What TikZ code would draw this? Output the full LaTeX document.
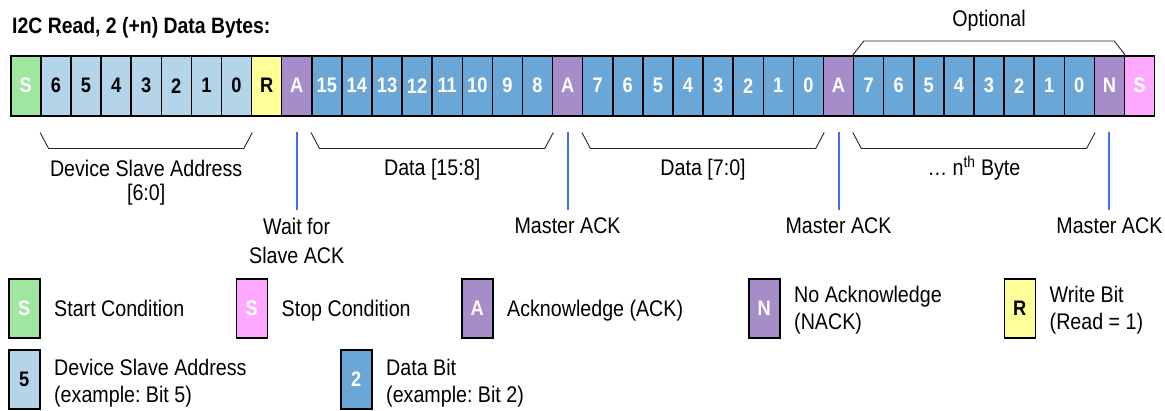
\documentclass[tikz,border=0pt]{standalone}
\usepackage{fontspec}
\setmainfont{Liberation Sans}[FakeStretch=0.87]
\usetikzlibrary{calc}
\definecolor{cstart}{HTML}{A0E6A0}
\definecolor{caddr}{HTML}{B4D4EA}
\definecolor{cread}{HTML}{FFFF99}
\definecolor{cack}{HTML}{A68CC8}
\definecolor{cdata}{HTML}{6BA7D6}
\definecolor{cstop}{HTML}{FFA8FF}
\definecolor{cline}{HTML}{3F6FEA}
\frenchspacing
\begin{document}
\begin{tikzpicture}[x=1pt,y=-1pt,
  bitbox/.style={draw=black, line width=1.5pt, minimum width=30.1pt, minimum height=60pt, inner sep=0pt, anchor=north west, font=\fontsize{21}{21}\selectfont\bfseries},
  legbox/.style={draw=black, line width=1.5pt, minimum width=31pt, minimum height=59pt, inner sep=0pt, anchor=north west, font=\fontsize{21}{21}\selectfont\bfseries},
  lbl/.style={font=\fontsize{22.6}{24}\selectfont, inner sep=0pt},
  brace/.style={draw=black!85, line width=0.9pt},
  ackline/.style={draw=cline, line width=2pt}]
\useasboundingbox (0,0) rectangle (1165,410);
\node[anchor=west, inner sep=0pt, font=\fontsize{22.3}{24}\selectfont\bfseries] (title) at (12,28) {I2C Read, 2 (+n) Data Bytes:};
% sequence
\foreach \i/\t/\f/\c in {0/S/cstart/white,
  1/6/caddr/black, 2/5/caddr/black, 3/4/caddr/black, 4/3/caddr/black, 5/2/caddr/black, 6/1/caddr/black, 7/0/caddr/black,
  8/R/cread/black, 9/A/cack/white,
  10/15/cdata/white, 11/14/cdata/white, 12/13/cdata/white, 13/12/cdata/white, 14/11/cdata/white, 15/10/cdata/white, 16/9/cdata/white, 17/8/cdata/white,
  18/A/cack/white,
  19/7/cdata/white, 20/6/cdata/white, 21/5/cdata/white, 22/4/cdata/white, 23/3/cdata/white, 24/2/cdata/white, 25/1/cdata/white, 26/0/cdata/white,
  27/A/cack/white,
  28/7/cdata/white, 29/6/cdata/white, 30/5/cdata/white, 31/4/cdata/white, 32/3/cdata/white, 33/2/cdata/white, 34/1/cdata/white, 35/0/cdata/white,
  36/N/cack/white, 37/S/cstop/white}
  {\node[bitbox, fill=\f, text=\c] (b\i) at ({10+\i*30.1},55) {\t};}
% braces below
\foreach \a/\b in {1/7, 10/17, 19/26, 28/35}
  {\draw[brace] ($(b\a.south west)+(0,16)$) -- ++(8.5,16) -- ($(b\b.south east)+(-8.5,32)$) -- ($(b\b.south east)+(0,16)$);}
% optional bracket
\draw[brace] (b28.north west) -- ++(11,-14) -- ($(b36.north east)+(-11,-14)$) -- (b36.north east);
\node[lbl] (opt) at ($(b28.north west)!0.5!(b36.north east)+(0,-34)$) {Optional};
% brace labels
\node[lbl, align=center, anchor=north] (ldev) at ($(b1.south west)!0.5!(b7.south east)+(0,43)$) {Device Slave Address\\{}[6:0]};
\node[lbl, anchor=base] (ld1) at ($(b10.south west)!0.5!(b17.south east)+(0,59)$) {Data [15:8]};
\node[lbl, anchor=base] (ld2) at ($(b19.south west)!0.5!(b26.south east)+(0,59)$) {Data [7:0]};
\node[lbl, anchor=base] (ld3) at ($(b28.south west)!0.5!(b35.south east)+(0,59)$) {… n\textsuperscript{th} Byte};
% ack lines and labels
\node[lbl, align=center, anchor=north, font=\fontsize{22.6}{29}\selectfont] (lwait) at ($(b9.south)+(0,101)$) {Wait for\\Slave ACK};
\node[lbl, anchor=north] (lm1) at ($(b18.south)+(0,101)$) {Master ACK};
\node[lbl, anchor=north] (lm2) at ($(b27.south)+(0,101)$) {Master ACK};
\node[lbl, anchor=north] (lm3) at ($(b36.south)+(0,101)$) {Master ACK};
\draw[ackline] ($(b9.south)+(0,15)$) -- ($(lwait.north)+(0,-8)$);
\draw[ackline] ($(b18.south)+(0,15)$) -- ($(lm1.north)+(0,-8)$);
\draw[ackline] ($(b27.south)+(0,15)$) -- ($(lm2.north)+(0,-8)$);
\draw[ackline] ($(b36.south)+(0,15)$) -- ($(lm3.north)+(0,-8)$);
% legend
\node[legbox, fill=cstart, text=white] (kS) at (8,278) {S};
\node[legbox, fill=cstop, text=white] (kP) at (235.5,278) {S};
\node[legbox, fill=cack, text=white] (kA) at (461,278) {A};
\node[legbox, fill=cack, text=white] (kN) at (748,278) {N};
\node[legbox, fill=cread, text=black] (kR) at (1003.5,278) {R};
\node[legbox, fill=caddr, text=black] (k5) at (8,349) {5};
\node[legbox, fill=cdata, text=white] (k2) at (340,349) {2};
\node[lbl, anchor=base west] (tS) at ($(kS.east)+(13.5,8)$) {Start Condition};
\node[lbl, anchor=base west] (tP) at ($(kP.east)+(13.5,8)$) {Stop Condition};
\node[lbl, anchor=base west] (tA) at ($(kA.east)+(13.5,8)$) {Acknowledge (ACK)};
\node[lbl, anchor=north west, align=left, font=\fontsize{22.6}{27}\selectfont] (tN) at ($(kN.east)+(13.5,-22.5)$) {No Acknowledge\\(NACK)};
\node[lbl, anchor=north west, align=left, font=\fontsize{22.6}{27}\selectfont] (tR) at ($(kR.east)+(13.5,-22.5)$) {Write Bit\\(Read = 1)};
\node[lbl, anchor=north west, align=left, font=\fontsize{22.6}{27}\selectfont] (t5) at ($(k5.east)+(13.5,-20)$) {Device Slave Address\\(example: Bit 5)};
\node[lbl, anchor=north west, align=left, font=\fontsize{22.6}{27}\selectfont] (t2) at ($(k2.east)+(13.5,-20)$) {Data Bit\\(example: Bit 2)};
\end{tikzpicture}
\end{document}
